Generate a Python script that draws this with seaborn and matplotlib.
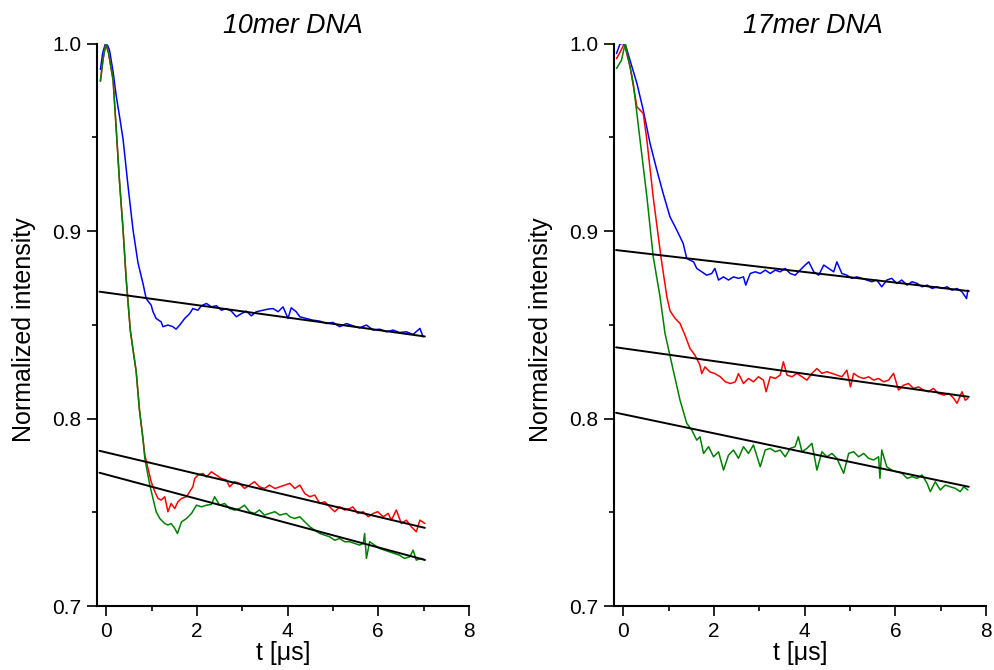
import matplotlib
matplotlib.use("Agg")
import matplotlib.pyplot as plt
import seaborn as sns
import pandas as pd
from matplotlib.ticker import MultipleLocator, FormatStrFormatter

# ---------------- data ----------------
titles = ["10mer DNA", "17mer DNA"]
xlabel = "t [\u03bcs]"
ylabel = "Normalized intensity"

# 10mer DNA
L_blue_t = [-0.13, -0.08, -0.02, 0.03, 0.07, 0.15, 0.22, 0.30, 0.37, 0.48, 0.59, 0.70, 0.81, 0.88, 0.99,
            1.03, 1.10, 1.21, 1.25, 1.36, 1.47, 1.54, 1.62, 1.73, 1.84, 1.91, 2.02, 2.10, 2.21, 2.32, 2.43,
            2.54, 2.65, 2.76, 2.87, 2.98, 3.09, 3.20, 3.31, 3.46, 3.57, 3.68, 3.79, 3.90, 4.01, 4.08, 4.19,
            4.27, 4.41, 4.56, 4.71, 4.86, 5.00, 5.15, 5.30, 5.44, 5.59, 5.74, 5.89, 6.03, 6.18, 6.33, 6.47,
            6.62, 6.77, 6.92, 6.99]
L_blue_y = [0.9863, 0.995, 1.000, 0.999, 0.9966, 0.985, 0.972, 0.960, 0.949, 0.924, 0.9006, 0.883, 0.872, 0.864, 0.8605,
            0.857, 0.8534, 0.8516, 0.849, 0.8499, 0.849, 0.8477, 0.8499, 0.8534, 0.856, 0.8587, 0.8578, 0.8602, 0.8614, 0.8596, 0.8602,
            0.8578, 0.8587, 0.8573, 0.8543, 0.856, 0.8573, 0.8548, 0.857, 0.8578, 0.8584, 0.8587, 0.857, 0.8596, 0.8534, 0.8591, 0.857,
            0.8543, 0.8534, 0.8525, 0.852, 0.8507, 0.8513, 0.849, 0.8507, 0.8495, 0.8484, 0.8499, 0.8472, 0.8477, 0.8463, 0.8472, 0.8459,
            0.8463, 0.8449, 0.8481, 0.8436]

L_red_t = [-0.13, -0.07, -0.01, 0.05, 0.15, 0.22, 0.29, 0.37, 0.44, 0.53, 0.60, 0.66, 0.73, 0.81,
           0.85, 0.92, 0.99, 1.07, 1.14, 1.21, 1.29, 1.36, 1.43, 1.51, 1.58, 1.66, 1.77, 1.84, 1.91, 1.95,
           2.02, 2.13, 2.21, 2.32, 2.43, 2.54, 2.65, 2.72, 2.83, 2.94, 3.05, 3.16, 3.27, 3.38, 3.49, 3.60,
           3.72, 3.83, 3.94, 4.05, 4.16, 4.27, 4.38, 4.49, 4.60, 4.71, 4.82, 4.93, 5.04, 5.15, 5.26, 5.37,
           5.44, 5.55, 5.67, 5.78, 5.89, 5.99, 6.11, 6.22, 6.29, 6.40, 6.51, 6.62, 6.73, 6.84, 6.92, 7.03]
L_red_y = [0.980, 0.992, 1.000, 0.995, 0.9806, 0.954, 0.927, 0.9006, 0.874, 0.847, 0.835, 0.825, 0.805, 0.789,
           0.7805, 0.7734, 0.7663, 0.761, 0.7574, 0.7565, 0.7583, 0.7503, 0.7547, 0.752, 0.7556, 0.7574, 0.7583, 0.761, 0.7636, 0.768,
           0.7698, 0.7707, 0.7689, 0.7716, 0.7698, 0.768, 0.7672, 0.7636, 0.7663, 0.7654, 0.7627, 0.7645, 0.7663, 0.7636, 0.7627, 0.7645,
           0.7627, 0.7636, 0.7645, 0.7654, 0.7627, 0.7645, 0.760, 0.7583, 0.7592, 0.7547, 0.7556, 0.7529, 0.7503, 0.7529, 0.7512, 0.752,
           0.7529, 0.7494, 0.7503, 0.7476, 0.7494, 0.7503, 0.7476, 0.7494, 0.7458, 0.7512, 0.744, 0.7458, 0.7423, 0.7396, 0.7458, 0.744]

L_green_t = [-0.13, -0.07, -0.01, 0.05, 0.15, 0.22, 0.29, 0.37, 0.44, 0.53, 0.60, 0.66, 0.73, 0.81,
             0.85, 0.96, 1.03, 1.10, 1.18, 1.29, 1.36, 1.43, 1.51, 1.57, 1.66, 1.77, 1.88, 1.99, 2.10, 2.21,
             2.32, 2.39, 2.50, 2.61, 2.72, 2.83, 2.94, 3.05, 3.16, 3.27, 3.38, 3.49, 3.60, 3.72, 3.83, 3.97,
             4.05, 4.16, 4.27, 4.38, 4.49, 4.60, 4.71, 4.82, 4.93, 5.04, 5.15, 5.26, 5.37, 5.48, 5.59, 5.67,
             5.70, 5.74, 5.81, 5.92, 6.03, 6.14, 6.25, 6.36, 6.47, 6.58, 6.70, 6.77, 6.84, 6.95, 7.03]
L_green_y = [0.980, 0.992, 1.000, 0.995, 0.9806, 0.954, 0.927, 0.9006, 0.874, 0.847, 0.835, 0.825, 0.805, 0.789,
             0.7787, 0.7645, 0.7574, 0.7503, 0.7467, 0.744, 0.7432, 0.744, 0.7414, 0.7387, 0.7449, 0.7467, 0.7494, 0.7538, 0.7529, 0.7538,
             0.7542, 0.7583, 0.7538, 0.7547, 0.752, 0.7512, 0.752, 0.7538, 0.7503, 0.7494, 0.7512, 0.7485, 0.7494, 0.7503, 0.7485, 0.7494,
             0.7476, 0.7467, 0.7476, 0.7449, 0.7423, 0.7405, 0.7387, 0.7378, 0.7369, 0.7351, 0.736, 0.7343, 0.7343, 0.7334, 0.7325, 0.7334,
             0.7387, 0.7254, 0.7343, 0.7325, 0.7307, 0.7298, 0.7289, 0.728, 0.7271, 0.7254, 0.7263, 0.7298, 0.7245, 0.7254, 0.7245]

# 17mer DNA
R_blue_t = [-0.15, -0.07, 0.04, 0.15, 0.30, 0.44, 0.59, 0.74, 0.88, 1.03, 1.18, 1.25, 1.32, 1.40, 1.55,
            1.62, 1.73, 1.84, 1.95, 2.02, 2.10, 2.21, 2.32, 2.43, 2.54, 2.65, 2.70, 2.80, 2.91, 3.02, 3.13,
            3.24, 3.35, 3.46, 3.57, 3.68, 3.79, 3.90, 4.01, 4.09, 4.20, 4.31, 4.42, 4.53, 4.64, 4.71, 4.82,
            4.93, 5.04, 5.15, 5.26, 5.37, 5.48, 5.59, 5.70, 5.81, 5.92, 6.03, 6.14, 6.26, 6.37, 6.48, 6.59,
            6.70, 6.81, 6.92, 7.03, 7.14, 7.25, 7.36, 7.47, 7.57, 7.60]
R_blue_y = [0.9948, 1.000, 1.000, 0.991, 0.9788, 0.9645, 0.9468, 0.9325, 0.920, 0.9076, 0.9005, 0.897, 0.8934, 0.8854, 0.8836,
            0.8801, 0.8783, 0.8765, 0.8774, 0.8801, 0.8739, 0.8756, 0.8739, 0.8756, 0.8748, 0.8756, 0.8712, 0.8774, 0.8783, 0.8774, 0.8792,
            0.8774, 0.8792, 0.8783, 0.8801, 0.8774, 0.8765, 0.8792, 0.8819, 0.8836, 0.8783, 0.8765, 0.8819, 0.8801, 0.8783, 0.8836, 0.8774,
            0.8765, 0.8748, 0.8756, 0.8748, 0.8739, 0.873, 0.8739, 0.8703, 0.8739, 0.8748, 0.8721, 0.8739, 0.8712, 0.873, 0.8721, 0.8703,
            0.8712, 0.8694, 0.8703, 0.8694, 0.8703, 0.8685, 0.8694, 0.8676, 0.864, 0.8685]

R_red_t = [-0.15, -0.06, 0.02, 0.15, 0.30, 0.44, 0.52, 0.66, 0.83, 0.96, 1.03, 1.14, 1.25, 1.36, 1.47,
           1.58, 1.69, 1.73, 1.80, 1.91, 2.02, 2.14, 2.25, 2.36, 2.47, 2.54, 2.65, 2.76, 2.87, 2.98, 3.09,
           3.15, 3.24, 3.35, 3.46, 3.53, 3.61, 3.72, 3.83, 3.94, 4.05, 4.16, 4.27, 4.38, 4.49, 4.60, 4.71,
           4.82, 4.93, 5.01, 5.08, 5.19, 5.30, 5.41, 5.52, 5.63, 5.74, 5.85, 5.96, 6.07, 6.18, 6.29, 6.40,
           6.51, 6.62, 6.73, 6.84, 6.95, 7.07, 7.18, 7.29, 7.36, 7.47, 7.54, 7.60]
R_red_y = [0.992, 0.996, 1.000, 0.9876, 0.9663, 0.9628, 0.9485, 0.918, 0.8863, 0.865, 0.8575, 0.8535, 0.8508, 0.8445, 0.8374,
           0.8338, 0.8285, 0.824, 0.8276, 0.8249, 0.824, 0.8223, 0.8196, 0.8187, 0.8196, 0.824, 0.8187, 0.8214, 0.8196, 0.8223, 0.8205,
           0.8143, 0.8223, 0.8214, 0.8232, 0.8303, 0.8232, 0.8223, 0.8241, 0.8223, 0.8205, 0.8241, 0.8267, 0.8241, 0.825, 0.8241, 0.8232,
           0.8223, 0.8258, 0.8169, 0.8241, 0.8223, 0.8214, 0.8223, 0.8205, 0.8214, 0.8196, 0.8205, 0.8241, 0.8152, 0.8178, 0.8187, 0.8161,
           0.8169, 0.8152, 0.8143, 0.8161, 0.8134, 0.8125, 0.8134, 0.8107, 0.8081, 0.8143, 0.8098, 0.8107]

R_green_t = [-0.15, -0.04, 0.04, 0.15, 0.22, 0.37, 0.52, 0.66, 0.81, 0.92, 1.10, 1.25, 1.40, 1.51, 1.62,
             1.69, 1.77, 1.88, 1.99, 2.10, 2.21, 2.32, 2.43, 2.54, 2.65, 2.76, 2.87, 3.02, 3.13, 3.24, 3.35,
             3.46, 3.57, 3.68, 3.79, 3.86, 3.94, 4.05, 4.16, 4.27, 4.38, 4.49, 4.60, 4.71, 4.86, 4.97, 5.08,
             5.19, 5.30, 5.41, 5.52, 5.63, 5.66, 5.70, 5.81, 5.92, 6.03, 6.15, 6.26, 6.37, 6.48, 6.59, 6.70,
             6.77, 6.88, 6.99, 7.10, 7.21, 7.32, 7.43, 7.51, 7.60]
R_green_y = [0.9868, 0.9912, 1.000, 0.9876, 0.9788, 0.9485, 0.9183, 0.8863, 0.865, 0.8454, 0.8259, 0.8099, 0.7974, 0.7939, 0.7885,
             0.7903, 0.7814, 0.785, 0.7796, 0.7823, 0.7725, 0.7805, 0.7832, 0.7788, 0.785, 0.7814, 0.7859, 0.7743, 0.7832, 0.7841, 0.7823,
             0.7832, 0.7796, 0.7841, 0.785, 0.7903, 0.7823, 0.7841, 0.7868, 0.7725, 0.7823, 0.7796, 0.7814, 0.7788, 0.7708, 0.7814, 0.7823,
             0.7796, 0.7814, 0.7788, 0.7779, 0.7796, 0.7681, 0.7832, 0.7743, 0.7725, 0.7716, 0.7708, 0.7681, 0.769, 0.7681, 0.7699, 0.7654,
             0.761, 0.7663, 0.7619, 0.7645, 0.7636, 0.7628, 0.761, 0.7636, 0.7619]

# linear fits (end points)
L_fit_t = [-0.15, 7.03]
L_fit_blue = [0.8677, 0.8438]
L_fit_red = [0.7828, 0.7417]
L_fit_green = [0.7711, 0.7246]
R_fit_t = [-0.16, 7.62]
R_fit_blue = [0.8899, 0.8680]
R_fit_red = [0.8380, 0.8116]
R_fit_green = [0.8031, 0.7636]

x_ticks = [0, 2, 4, 6, 8]
y_ticks = [0.7, 0.8, 0.9, 1.0]

# ---------------- plotting ----------------
sns.set_theme(style="ticks")
plt.rcParams["font.family"] = ["Liberation Sans", "DejaVu Sans"]

fig = plt.figure(figsize=(9.95, 6.70), dpi=100)
ax_l = fig.add_axes([0.0975, 0.0955, 0.3737, 0.8393])
ax_r = fig.add_axes([0.6171, 0.0955, 0.3739, 0.8393])

colors = {"blue": "#0000ff", "red": "#ff0000", "green": "#008000"}

panels = [
    (ax_l, titles[0],
     [(L_blue_t, L_blue_y, "blue"), (L_red_t, L_red_y, "red"), (L_green_t, L_green_y, "green")],
     L_fit_t, [L_fit_blue, L_fit_red, L_fit_green], 0.527),
    (ax_r, titles[1],
     [(R_blue_t, R_blue_y, "blue"), (R_red_t, R_red_y, "red"), (R_green_t, R_green_y, "green")],
     R_fit_t, [R_fit_blue, R_fit_red, R_fit_green], 0.535),
]

for ax, title, traces, fit_t, fits, tx in panels:
    for t, y, c in traces:
        df = pd.DataFrame({"t": t, "y": y})
        sns.lineplot(data=df, x="t", y="y", ax=ax, color=colors[c], linewidth=1.1,
                     sort=False, estimator=None)
    for fy in fits:
        df = pd.DataFrame({"t": fit_t, "y": fy})
        sns.lineplot(data=df, x="t", y="y", ax=ax, color="black", linewidth=1.4,
                     sort=False, estimator=None)
    ax.set_xlim(-0.205, 8.0)
    ax.set_ylim(0.7, 1.0)
    ax.set_xticks(x_ticks)
    ax.set_yticks(y_ticks)
    ax.xaxis.set_minor_locator(MultipleLocator(1))
    ax.yaxis.set_minor_locator(MultipleLocator(0.05))
    ax.yaxis.set_major_formatter(FormatStrFormatter("%.1f"))
    ax.tick_params(axis="both", which="major", length=7.5, width=1.2, labelsize=15,
                   pad=4, color="black", labelcolor="black", direction="out")
    ax.tick_params(axis="both", which="minor", length=3.8, width=1.2, color="black",
                   direction="out")
    sns.despine(ax=ax)
    for sp in ["left", "bottom"]:
        ax.spines[sp].set_linewidth(1.5)
        ax.spines[sp].set_color("black")
    ax.set_xlabel(xlabel, fontsize=18, labelpad=0, color="black")
    ax.set_ylabel(ylabel, fontsize=18, color="black")
    ax.yaxis.set_label_coords(-0.165, 0.491)
    ax.text(tx, 1.032, title, transform=ax.transAxes, ha="center", va="center",
            fontsize=19.3, style="italic", color="black")
    ax.grid(False)

fig.savefig("out.png", dpi=100)
